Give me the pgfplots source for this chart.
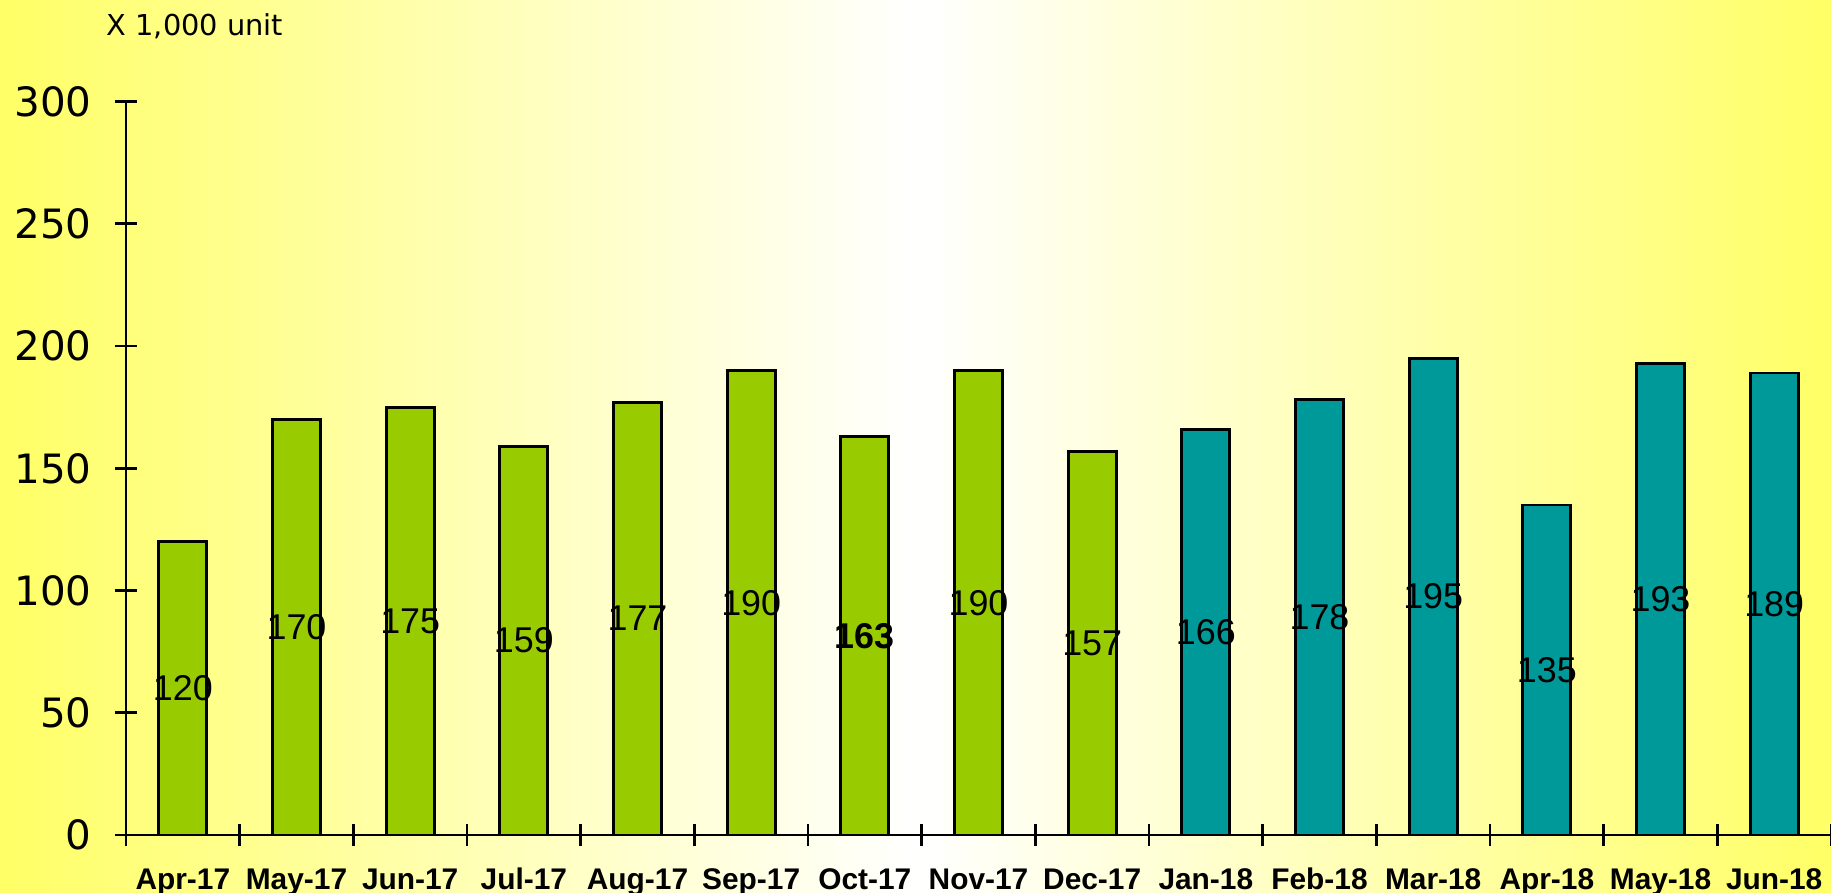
\documentclass[border=0pt]{standalone}
\usepackage{fontspec}
\setmainfont{Liberation Sans}
\newfontfamily\dejavu{DejaVu Sans}
\usepackage{pgfplots}
\pgfplotsset{compat=1.18}
\usepackage{pgfplotstable}
\definecolor{bgyellow}{HTML}{FFFF66}
\definecolor{bargreen}{HTML}{99CC00}
\definecolor{barteal}{HTML}{009999}

\pgfplotstableread{
x y
0 120
1 170
2 175
3 159
4 177
5 190
6 163
7 190
8 157
}\first
\pgfplotstableread{
x y
9 166
10 178
11 195
12 135
13 193
14 189
}\second

\begin{document}
\begin{tikzpicture}[x=1cm,y=1cm]
\useasboundingbox (0,0) rectangle (18.31,8.92);
\shade[left color=bgyellow, right color=bgyellow, middle color=white] (0,0) rectangle (18.31,8.92);
\node[anchor=base west, inner sep=0pt, font=\dejavu\fontsize{8.2}{10}\selectfont] at (1.06,8.56) {X 1,000 unit};
\begin{axis}[
  at={(1.26cm,0.57cm)}, anchor=south west, scale only axis,
  width=17.05cm, height=7.334cm,
  xmin=-0.5, xmax=14.5, ymin=0, ymax=300,
  axis lines=left, axis line style={-, line width=0.8pt, black},
  xtick={-0.5,0.5,...,14.5},
  x tick label as interval,
  xticklabels={Apr-17,May-17,Jun-17,Jul-17,Aug-17,Sep-17,Oct-17,Nov-17,Dec-17,Jan-18,Feb-18,Mar-18,Apr-18,May-18,Jun-18},
  ytick={0,50,...,300},
  tick align=center,
  major tick length=2.2mm,
  tick style={black, line width=0.8pt},
  xticklabel style={font=\bfseries\fontsize{8.5}{10}\selectfont, anchor=north, text height=6.3pt, text depth=1.8pt, yshift=-0.9mm},
  yticklabel style={font=\dejavu\fontsize{11.5}{13}\selectfont, xshift=-1.1mm},
  /pgf/number format/assume math mode=true,
  clip=false,
]
\addplot[ybar, bar width=4.8mm, fill=bargreen, draw=black, line width=0.8pt] table[x=x,y=y] {\first};
\addplot[ybar, bar width=4.8mm, fill=barteal, draw=black, line width=0.8pt] table[x=x,y=y] {\second};
\addplot[draw=none, mark=none, nodes near coords, point meta=explicit, nodes near coords align={center},
  skip coords between index={6}{7},
  every node near coord/.append style={font=\fontsize{10.2}{12}\selectfont, text=black}]
  table[x=x, y expr=\thisrow{y}/2, meta=y] {\first};
\addplot[draw=none, mark=none, nodes near coords, point meta=explicit, nodes near coords align={center},
  restrict x to domain=5.5:6.5,
  every node near coord/.append style={font=\bfseries\fontsize{10.2}{12}\selectfont, text=black}]
  table[x=x, y expr=\thisrow{y}/2, meta=y] {\first};
\addplot[draw=none, mark=none, nodes near coords, point meta=explicit, nodes near coords align={center},
  every node near coord/.append style={font=\fontsize{10.2}{12}\selectfont, text=black}]
  table[x=x, y expr=\thisrow{y}/2, meta=y] {\second};
\end{axis}
\end{tikzpicture}
\end{document}
